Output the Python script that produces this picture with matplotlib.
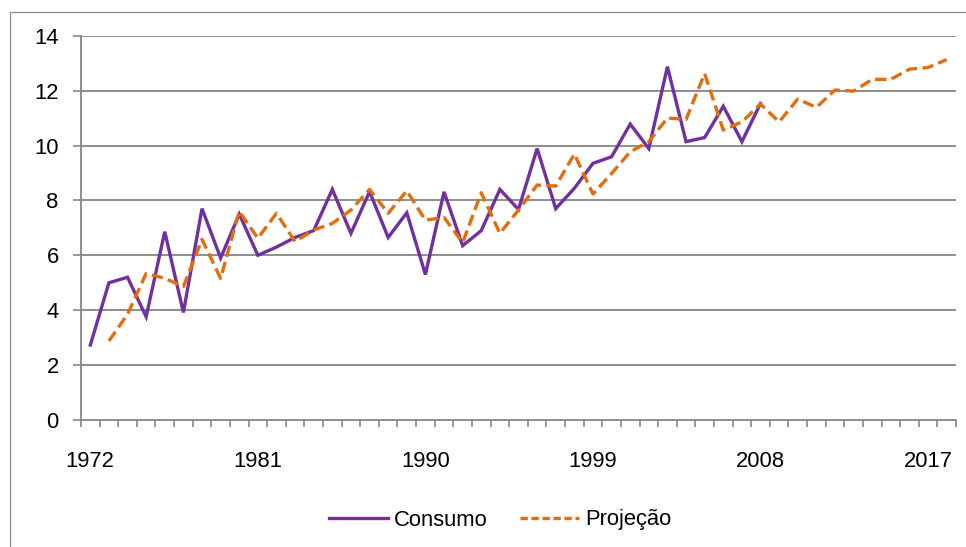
import numpy as np
import matplotlib
matplotlib.use("Agg")
import matplotlib.pyplot as plt
from matplotlib.patches import Rectangle
from matplotlib.lines import Line2D

plt.rcParams['font.family'] = ['Liberation Sans', 'DejaVu Sans']

years = list(range(1972, 2019))
consumo = [2.73, 5.0, 5.2, 3.76, 6.86, 3.92, 7.7, 5.9, 7.5, 6.0,
           6.3, 6.65, 6.9, 8.4, 6.8, 8.32, 6.65, 7.55, 5.3, 8.31,
           6.35, 6.9, 8.4, 7.67, 9.89, 7.7, 8.44, 9.35, 9.59, 10.78,
           9.89, 12.87, 10.14, 10.29, 11.43, 10.14, 11.53]
projecao = [2.88, 3.85, 5.34, 5.16, 4.86, 6.58, 5.16, 7.6, 6.62,
            7.53, 6.5, 6.92, 7.16, 7.65, 8.4, 7.53, 8.35, 7.28, 7.38,
            6.46, 8.28, 6.8, 7.65, 8.56, 8.52, 9.69, 8.23, 8.98, 9.77,
            10.14, 11.0, 10.95, 12.62, 10.56, 10.86, 11.51, 10.86, 11.69,
            11.39, 12.02, 11.98, 12.41, 12.41, 12.78, 12.84, 13.13]
tick_years = [1972, 1981, 1990, 1999, 2008, 2017]
yticks = [0, 2, 4, 6, 8, 10, 12, 14]

W, H = 966, 547
fig = plt.figure(figsize=(W / 100, H / 100), dpi=100)
fig.patch.set_facecolor('white')

# outer chart border (cropped on right and bottom)
fig.add_artist(Rectangle((9.5 / W, -0.1), 2.0, 1.1 - 11.5 / H,
                         transform=fig.transFigure, fill=False,
                         edgecolor='#8c8c8c', linewidth=0.9))

ax = fig.add_axes([81 / W, 1 - 420 / H, 875 / W, 384.3 / H])

idx = np.arange(len(years))
cons_x = idx[:len(consumo)]
proj_x = idx[len(years) - len(projecao):]

gray = '#868686'
purple = '#7030A0'
orange = '#E46C0A'
fs = 15.8

for v in yticks[1:]:
    ax.axhline(v, color=gray, linewidth=1.3, zorder=1)

ax.plot(cons_x, consumo, color=purple, linewidth=2.4, zorder=3,
        solid_joinstyle='miter')
ax.plot(proj_x, projecao, color=orange, linewidth=2.4, zorder=4,
        linestyle=(0, (3.4, 1.6)))

ax.set_xlim(-0.5, len(years) - 0.5)
ax.set_ylim(0, 14)

ax.set_yticks(yticks)
ax.set_yticklabels([str(v) for v in yticks], fontsize=fs)
ax.tick_params(axis='y', length=6, width=1.2, color=gray, pad=10)

ax.set_xticks([years.index(y) for y in tick_years])
ax.set_xticklabels([str(y) for y in tick_years], fontsize=fs)
ax.set_xticks(np.arange(-0.5, len(years)), minor=True)
ax.tick_params(axis='x', which='major', length=0, pad=22)
ax.tick_params(axis='x', which='minor', length=5, width=1.2, color=gray)

for s in ['top', 'right']:
    ax.spines[s].set_visible(False)
for s in ['left', 'bottom']:
    ax.spines[s].set_color(gray)
    ax.spines[s].set_linewidth(1.3)

handles = [Line2D([], [], color=purple, linewidth=2.4),
           Line2D([], [], color=orange, linewidth=2.4, linestyle=(0, (2.2, 1.1)))]
fig.legend(handles, ['Consumo', 'Projeção'], loc='center',
           bbox_to_anchor=(500 / W, 1 - 520 / H), ncol=2, frameon=False,
           fontsize=fs, handlelength=2.7, handletextpad=0.25,
           columnspacing=1.5)

fig.savefig('out.png', dpi=100, facecolor='white')
